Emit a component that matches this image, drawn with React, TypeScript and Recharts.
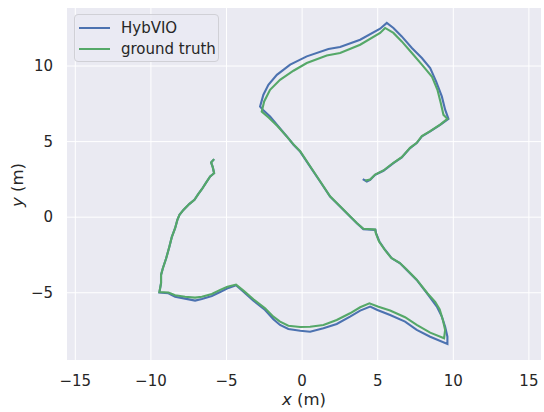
import React from 'react';
import {
  ScatterChart,
  Scatter,
  XAxis,
  YAxis,
  CartesianGrid,
  Legend,
  Label
} from 'recharts';

// trajectory, in metres
const hybvioX = [
  -5.82, -6.02, -5.91, -5.82, -6.08, -6.35, -6.63, -6.86, -7.12, -7.45, -7.85, -8.11, -8.25, -8.40, -8.62, -8.78, -8.99, -9.21, -9.33, -9.33, -9.44,
  -8.84, -8.40, -7.74, -7.08, -6.63, -5.97, -5.42, -4.87, -4.37,
  -3.88, -3.22, -2.45, -1.90, -1.46, -0.91, -0.13, 0.53, 1.41, 2.29, 3.17, 3.84, 4.50, 4.98, 5.82, 6.81, 7.58, 8.47, 9.61,
  9.61, 9.46, 9.24, 8.91, 8.35, 7.58, 6.92, 6.48, 5.93, 5.49, 5.11, 4.89, 4.85, 4.05, 3.62, 3.17, 2.51, 1.85, 1.19, 0.53, -0.13, -0.57, -1.01, -1.57, -2.12, -2.60, -2.78,
  -2.56, -2.23, -1.67, -0.79, 0.31, 1.74, 2.51, 3.84, 5.16, 5.60, 6.04, 6.59, 7.26, 7.92, 8.47, 8.86, 9.24, 9.46, 9.68,
  9.13, 8.47, 7.92, 7.58, 7.14, 6.59, 6.04, 5.38, 4.83, 4.50, 4.28, 4.01
];
const hybvioY = [
  3.84, 3.62, 3.31, 2.91, 2.69, 2.29, 1.85, 1.54, 1.15, 0.88, 0.48, 0.15, -0.18, -0.73, -1.32, -1.95, -2.72, -3.38, -3.82, -4.37, -4.99,
  -5.03, -5.26, -5.39, -5.52, -5.41, -5.21, -4.95, -4.68, -4.50,
  -4.93, -5.52, -6.14, -6.75, -7.13, -7.40, -7.51, -7.58, -7.35, -7.07, -6.58, -6.18, -5.92, -6.14, -6.47, -6.91, -7.46, -7.91, -8.39,
  -7.91, -7.25, -6.58, -5.92, -5.15, -4.15, -3.49, -3.05, -2.72, -2.17, -1.61, -1.06, -0.84, -0.79, -0.40, 0.04, 0.70, 1.36, 2.36, 3.35, 4.34, 4.79, 5.34, 6.00, 6.66, 7.11, 7.32,
  8.10, 8.76, 9.42, 10.09, 10.64, 11.13, 11.26, 11.74, 12.47, 12.85, 12.52, 11.96, 11.19, 10.53, 9.87, 8.98, 7.99, 7.11, 6.51,
  6.11, 5.67, 5.34, 4.90, 4.57, 3.95, 3.58, 3.07, 2.80, 2.47, 2.36, 2.52
];

const groundTruthX = [
  -5.82, -6.02, -5.91, -5.82, -6.08, -6.35, -6.63, -6.86, -7.12, -7.45, -7.85, -8.11, -8.25, -8.40, -8.62, -8.78, -8.99, -9.21, -9.33, -9.33, -9.44,
  -8.84, -8.40, -7.74, -7.08, -6.63, -5.97, -5.42, -4.94, -4.37,
  -3.88, -3.22, -2.45, -1.90, -1.46, -0.91, -0.13, 0.53, 1.41, 2.29, 3.17, 3.84, 4.45, 5.05, 5.82, 6.81, 7.58, 8.47, 9.39,
  9.46, 9.31, 9.10, 8.80, 8.30, 7.55, 6.90, 6.45, 5.90, 5.46, 5.08, 4.87, 4.83, 4.05, 3.62, 3.17, 2.51, 1.85, 1.19, 0.53, -0.13, -0.60, -1.05, -1.62, -2.20, -2.67,
  -2.51, -2.12, -1.46, -0.57, 0.31, 1.63, 2.51, 3.84, 5.16, 5.49, 6.04, 6.59, 7.26, 7.92, 8.58, 8.95, 9.17, 9.35, 9.61,
  9.13, 8.47, 7.92, 7.58, 7.14, 6.59, 6.04, 5.38, 4.83, 4.50, 4.17
];
const groundTruthY = [
  3.84, 3.62, 3.31, 2.91, 2.69, 2.29, 1.85, 1.54, 1.15, 0.88, 0.48, 0.15, -0.18, -0.73, -1.32, -1.95, -2.72, -3.38, -3.82, -4.37, -4.95,
  -4.98, -5.17, -5.26, -5.32, -5.26, -5.08, -4.81, -4.60, -4.46,
  -4.86, -5.43, -6.03, -6.58, -6.91, -7.18, -7.27, -7.25, -7.13, -6.80, -6.36, -5.96, -5.70, -5.92, -6.18, -6.62, -7.13, -7.64, -8.01,
  -7.46, -6.80, -6.10, -5.60, -5.05, -4.10, -3.45, -3.02, -2.70, -2.15, -1.60, -1.04, -0.82, -0.77, -0.38, 0.06, 0.72, 1.38, 2.38, 3.37, 4.36, 4.85, 5.38, 6.02, 6.58, 6.99,
  7.66, 8.43, 9.09, 9.69, 10.20, 10.70, 10.86, 11.41, 12.19, 12.52, 12.19, 11.63, 10.86, 10.09, 9.31, 8.43, 7.55, 6.77, 6.51,
  6.13, 5.69, 5.36, 4.92, 4.59, 3.97, 3.60, 3.09, 2.82, 2.49, 2.42
];

const xTicks = [-15, -10, -5, 0, 5, 10, 15];
const yTicks = [-5, 0, 5, 10];

const seriesNames = ['HybVIO', 'ground truth'];
const seriesColors = ['#4c72b0', '#55a868'];

const hybvioData = hybvioX.map((x, i) => ({ x, y: hybvioY[i] }));
const groundTruthData = groundTruthX.map((x, i) => ({ x, y: groundTruthY[i] }));

const FONT = '"DejaVu Sans", sans-serif';
const TEXT = '#262626';

const noDot = () => <g />;

const LegendBox = () => (
  <div
    style={{
      position: 'absolute',
      left: 74,
      top: 14,
      width: 143,
      height: 46,
      border: '1px solid #d0d0d6',
      borderRadius: 4,
      background: 'rgba(234,234,242,0.8)',
      fontFamily: FONT,
      fontSize: 15,
      color: TEXT
    }}
  >
    {seriesNames.map((name, i) => (
      <div key={name} style={{ position: 'absolute', left: 0, top: i === 0 ? 2 : 23, height: 22, display: 'flex', alignItems: 'center' }}>
        <span style={{ display: 'inline-block', marginLeft: 4, width: 31, height: 2, background: seriesColors[i] }} />
        <span style={{ marginLeft: 11, whiteSpace: 'nowrap' }}>{name}</span>
      </div>
    ))}
  </div>
);

const App = () => {
  return (
    <div style={{ position: 'fixed', left: 0, top: 0, width: 544, height: 412, background: '#fff' }}>
      <ScatterChart width={544} height={412} margin={{ top: 8, right: 3, left: 0, bottom: 0 }}>
        <CartesianGrid fill="#eaeaf2" stroke="#ffffff" strokeWidth={1} horizontalValues={yTicks} verticalValues={xTicks} />
        <XAxis
          type="number"
          dataKey="x"
          domain={[-15.55, 15.8]}
          ticks={xTicks}
          allowDataOverflow
          axisLine={false}
          tickLine={false}
          tickSize={0}
          tickMargin={15}
          height={52}
          tick={{ fill: TEXT, fontSize: 15, fontFamily: FONT }}
          tickFormatter={(v) => String(v).replace('-', '\u2212')}
        >
          <Label
            content={({ viewBox }: any) => (
              <text x={viewBox.x + viewBox.width / 2} y={viewBox.y + 45} textAnchor="middle" fill={TEXT} fontSize={16.5} fontFamily={FONT}>
                <tspan fontStyle="italic">x</tspan>
                <tspan> (m)</tspan>
              </text>
            )}
          />
        </XAxis>
        <YAxis
          type="number"
          dataKey="y"
          domain={[-9.45, 13.84]}
          ticks={yTicks}
          allowDataOverflow
          axisLine={false}
          tickLine={false}
          tickSize={0}
          tickMargin={14}
          width={67}
          tick={{ fill: TEXT, fontSize: 15, fontFamily: FONT }}
          tickFormatter={(v) => String(v).replace('-', '\u2212')}
        >
          <Label
            content={() => (
              <text x={23} y={185} transform="rotate(-90, 23, 185)" textAnchor="middle" fill={TEXT} fontSize={16.5} fontFamily={FONT}>
                <tspan fontStyle="italic">y</tspan>
                <tspan> (m)</tspan>
              </text>
            )}
          />
        </YAxis>
        <Scatter
          name={seriesNames[0]}
          data={hybvioData}
          line={{ stroke: seriesColors[0], strokeWidth: 2.1 }}
          lineType="joint"
          shape={noDot}
          isAnimationActive={false}
        />
        <Scatter
          name={seriesNames[1]}
          data={groundTruthData}
          line={{ stroke: seriesColors[1], strokeWidth: 2.1 }}
          lineType="joint"
          shape={noDot}
          isAnimationActive={false}
        />
        <Legend content={() => null} />
      </ScatterChart>
      <LegendBox />
    </div>
  );
};

export default App;
